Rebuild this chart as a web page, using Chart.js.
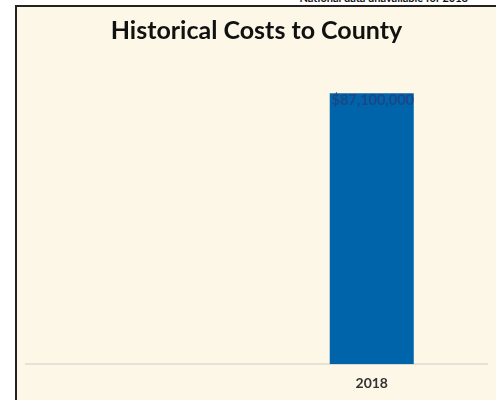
<!DOCTYPE html>
<html>
<head>
<meta charset="utf-8">
<script src="https://cdn.jsdelivr.net/npm/chart.js@4"></script>
<style>
  body { margin: 0; background: #fff; overflow: hidden; font-family: Lato, sans-serif; }
  .note { position: absolute; top: -9px; right: 28px; font-size: 11px; font-weight: bold; color: #111; }
  .box { position: absolute; left: 15px; top: 5px; width: 500px; height: 420px;
         border-left: 2px solid #222; border-top: 2px solid #222; background: #fdf7e8; }
  .wrap { position: absolute; left: 0; top: 0; width: 479px; height: 393px; }
</style>
</head>
<body>
<div class="note">*National data unavailable for 2018</div>
<div class="box">
  <div class="wrap"><canvas id="costChart"></canvas></div>
</div>
<script>
const years = ['', '2018'];
const countyCosts = [null, 87100000];

// libellé en haut de la barre
const valueLabels = {
  id: 'valueLabels',
  afterDatasetsDraw(chart) {
    const ctx = chart.ctx;
    const meta = chart.getDatasetMeta(0);
    ctx.save();
    ctx.font = 'bold 14.5px Lato, sans-serif';
    ctx.fillStyle = '#1a4886';
    ctx.textAlign = 'center';
    ctx.textBaseline = 'middle';
    meta.data.forEach((bar, i) => {
      const v = countyCosts[i];
      if (v == null) return;
      ctx.fillText('$' + v.toLocaleString('en-US'), bar.x + 1, bar.y + 7);
    });
    ctx.restore();
  }
};

new Chart(document.getElementById('costChart').getContext('2d'), {
  type: 'bar',
  data: {
    labels: years,
    datasets: [{
      label: 'County',
      data: countyCosts,
      backgroundColor: '#0064ab',
      barPercentage: 0.9,
      categoryPercentage: 0.405
    }]
  },
  options: {
    responsive: true,
    maintainAspectRatio: false,
    animation: false,
    layout: { padding: { left: 9, right: 9, top: 0, bottom: 5 } },
    plugins: {
      legend: { display: false },
      tooltip: { enabled: false },
      title: {
        display: true,
        text: 'Historical Costs to County',
        color: '#111',
        font: { family: 'Lato, sans-serif', size: 25, weight: 'bold' },
        padding: { top: 9, bottom: 7 }
      }
    },
    scales: {
      x: {
        grid: { display: false },
        border: { display: true, color: '#e6e2d8', width: 2 },
        ticks: { color: '#333', padding: 3, font: { family: 'Lato, sans-serif', size: 14, weight: 'bold' } }
      },
      y: {
        display: false,
        min: 0,
        max: 100000000
      }
    }
  },
  plugins: [valueLabels]
});
</script>
</body>
</html>
